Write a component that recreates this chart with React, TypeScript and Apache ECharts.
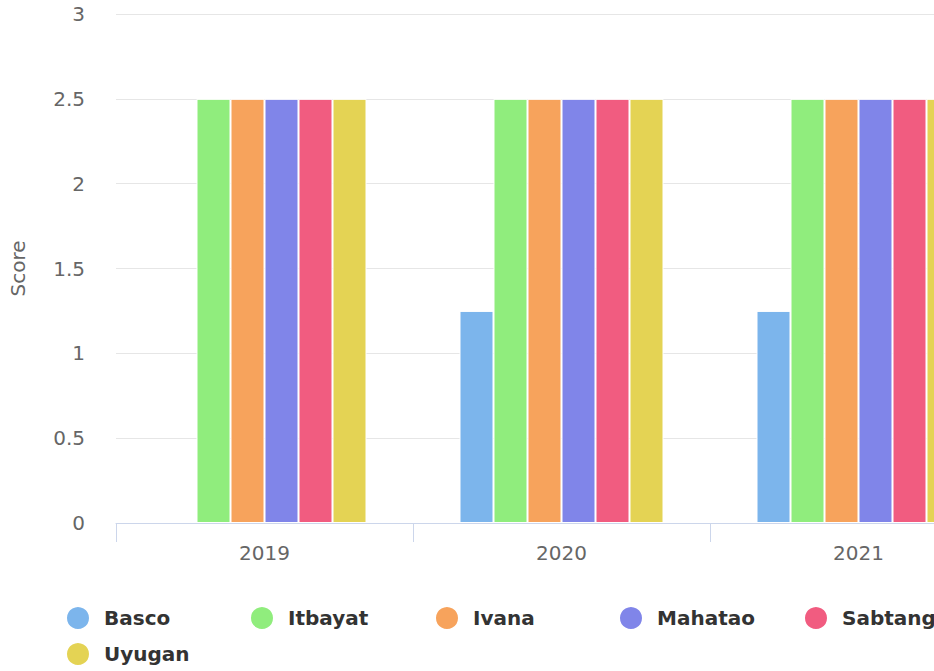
import React, { useEffect, useRef } from "react";
import * as echarts from "echarts";

const categories = ["2019", "2020", "2021"];
const seriesNames = ["Basco", "Itbayat", "Ivana", "Mahatao", "Sabtang", "Uyugan"];
const basco = [null, 1.25, 1.25];
const itbayat = [2.5, 2.5, 2.5];
const ivana = [2.5, 2.5, 2.5];
const mahatao = [2.5, 2.5, 2.5];
const sabtang = [2.5, 2.5, 2.5];
const uyugan = [2.5, 2.5, 2.5];
const seriesValues = [basco, itbayat, ivana, mahatao, sabtang, uyugan];
const colors = ["#7cb5ec", "#90ed7d", "#f7a35c", "#8085e9", "#f15c80", "#e4d354"];

const FONT = "DejaVu Sans";
const legendLefts = [65, 249, 434, 618, 803, 65];
const legendTops = [605, 605, 605, 605, 605, 641];

export default function App() {
  const ref = useRef<HTMLDivElement>(null);
  useEffect(() => {
    if (!ref.current) return;
    const chart = echarts.init(ref.current, undefined, { renderer: "svg" });
    const legends = seriesNames.map((name, i) => ({
      orient: "horizontal",
      padding: 0,
      icon: "circle",
      itemWidth: 24,
      itemHeight: 24,
      itemGap: 10,
      left: legendLefts[i],
      top: legendTops[i],
      data: [name],
      textStyle: {
        fontFamily: FONT,
        fontSize: 20,
        fontWeight: "bold",
        color: "#333333",
        lineHeight: 24,
        padding: [0, 0, 0, 9],
      },
    }));
    chart.setOption({
      animation: false,
      color: colors,
      grid: { left: 116, right: 23, top: 14, bottom: 148, containLabel: false },
      legend: legends,
      xAxis: {
        type: "category",
        data: categories,
        axisLine: { lineStyle: { color: "#ccd6eb", width: 1 } },
        axisTick: { show: true, length: 19, lineStyle: { color: "#ccd6eb", width: 1 } },
        axisLabel: { fontFamily: FONT, fontSize: 20, color: "#666666", margin: 20 },
        splitLine: { show: false },
      },
      yAxis: {
        type: "value",
        min: 0,
        max: 3,
        interval: 0.5,
        name: "Score",
        nameLocation: "middle",
        nameRotate: 90,
        nameGap: 88,
        nameTextStyle: { fontFamily: FONT, fontSize: 20, color: "#666666" },
        axisLine: { show: false },
        axisTick: { show: false },
        axisLabel: { fontFamily: FONT, fontSize: 20, color: "#666666", margin: 31 },
        splitLine: { lineStyle: { color: "#e6e6e6", width: 1 } },
      },
      series: seriesNames.map((name, i) => ({
        name,
        type: "bar",
        data: seriesValues[i],
        barWidth: 34,
        barGap: "0%",
        itemStyle: { color: colors[i], borderColor: "#ffffff", borderWidth: 1 },
        emphasis: { disabled: true },
      })),
    });
    return () => chart.dispose();
  }, []);
  return (
    <div
      style={{
        position: "absolute",
        left: 0,
        top: 0,
        width: 934,
        height: 671,
        overflow: "hidden",
        background: "#ffffff",
      }}
    >
      <div ref={ref} style={{ width: 1030, height: 671 }} />
    </div>
  );
}
